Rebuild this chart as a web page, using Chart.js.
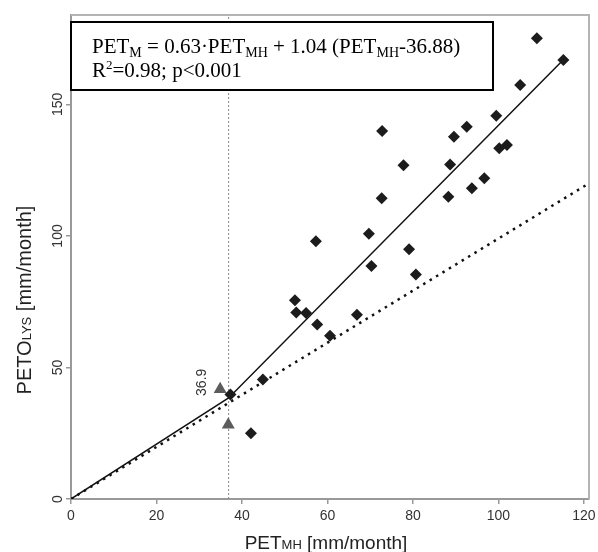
<!DOCTYPE html>
<html>
<head>
<meta charset="utf-8">
<script src="https://cdn.jsdelivr.net/npm/chart.js@4.4.1/dist/chart.umd.min.js"></script>
<style>
  html, body { margin: 0; padding: 0; background: #fff; }
</style>
</head>
<body>
<canvas id="chart" width="598" height="552"></canvas>
<script>
// measured PET (Makkink-Hargreaves) vs lysimeter PETO, mm/month
const petMH   = [37.3, 42.1, 44.9, 52.4, 52.7, 55.0, 57.3, 57.6, 60.6, 66.9, 69.7, 70.3, 72.7, 72.8, 77.8,
                 79.1, 80.7, 88.3, 88.7, 89.6, 92.6, 93.8, 96.7, 99.5, 100.2, 102.0, 105.1, 109.0, 115.2];
const petoLYS = [39.7, 25.0, 45.4, 75.6, 70.9, 70.7, 98.0, 66.3, 62.1, 70.0, 100.8, 88.6, 114.3, 139.9, 126.9,
                 94.9, 85.3, 114.9, 127.2, 137.7, 141.5, 118.1, 121.9, 145.7, 133.3, 134.6, 157.4, 175.2, 166.9];

// grey triangles near the break point
const triX = [34.9, 36.8];
const triY = [41.7, 28.2];

// broken-line fit and 1:1 line
const breakX = 36.88;
const fitX = [0, 36.88, 115.2];
const fitY = [0, 38.4, 167.0];
const oneX = [0, 121.2];
const oneY = [0, 120.0];

const xTicks = [0, 20, 40, 60, 80, 100, 120];
const yTicks = [0, 50, 100, 150];
const xMax = 121.2;
const yMax = 184;

const pts = (xs, ys) => xs.map((x, i) => ({ x: x, y: ys[i] }));

const SANS = '"Liberation Sans", Arial, sans-serif';
const SERIF = '"Liberation Serif", "Times New Roman", serif';

// parts: [text, fontSize, dy, family]
function drawRich(ctx, parts, x, y, align) {
  let total = 0;
  parts.forEach(p => { ctx.font = p[1] + 'px ' + p[3]; total += ctx.measureText(p[0]).width; });
  let cx = align === 'center' ? x - total / 2 : x;
  ctx.textAlign = 'left';
  parts.forEach(p => {
    ctx.font = p[1] + 'px ' + p[3];
    ctx.fillText(p[0], cx, y + p[2]);
    cx += ctx.measureText(p[0]).width;
  });
}

const decorations = {
  id: 'decorations',
  afterDatasetsDraw(chart) {
    const ctx = chart.ctx;
    const a = chart.chartArea;
    const xs = chart.scales.x, ys = chart.scales.y;
    ctx.save();

    // light frame on top and right
    ctx.strokeStyle = '#b4b4b4';
    ctx.lineWidth = 2;
    ctx.beginPath();
    ctx.moveTo(a.left, a.top);
    ctx.lineTo(a.right, a.top);
    ctx.lineTo(a.right, a.bottom);
    ctx.stroke();

    // equation box
    const bx = a.left, by = a.top + 7, bw = 422, bh = 68;
    ctx.fillStyle = '#fff';
    ctx.fillRect(bx, by, bw, bh);
    ctx.strokeStyle = '#000';
    ctx.lineWidth = 2;
    ctx.strokeRect(bx, by, bw, bh);

    ctx.fillStyle = '#000';
    ctx.textBaseline = 'alphabetic';
    drawRich(ctx, [
      ['PET', 21, 0, SERIF], ['M', 14, 4, SERIF], [' = 0.63\u00B7PET', 21, 0, SERIF], ['MH', 14, 4, SERIF],
      [' + 1.04 (PET', 21, 0, SERIF], ['MH', 14, 4, SERIF], ['-36.88)', 21, 0, SERIF]
    ], bx + 21, by + 31);
    drawRich(ctx, [
      ['R', 21, 0, SERIF], ['2', 13, -8, SERIF], ['=0.98; p<0.001', 21, 0, SERIF]
    ], bx + 21, by + 55);

    // break point label
    const tx = xs.getPixelForValue(triX[0]) - 18;
    const ty = ys.getPixelForValue(triY[0]) - 7;
    ctx.save();
    ctx.translate(tx, ty);
    ctx.rotate(-Math.PI / 2);
    ctx.fillStyle = '#333';
    ctx.font = '14px ' + SANS;
    ctx.textAlign = 'center';
    ctx.textBaseline = 'middle';
    ctx.fillText(breakX.toFixed(1), 0, 0);
    ctx.restore();

    ctx.restore();
  },
  afterDraw(chart) {
    const ctx = chart.ctx;
    const a = chart.chartArea;
    const xs = chart.scales.x, ys = chart.scales.y;
    ctx.save();
    ctx.fillStyle = '#333';
    ctx.font = '14px ' + SANS;

    // x tick labels
    ctx.textAlign = 'center';
    ctx.textBaseline = 'middle';
    xTicks.forEach(v => ctx.fillText(String(v), xs.getPixelForValue(v), a.bottom + 17));

    // y tick labels, rotated
    yTicks.forEach(v => {
      ctx.save();
      ctx.translate(a.left - 13, ys.getPixelForValue(v));
      ctx.rotate(-Math.PI / 2);
      ctx.fillText(String(v), 0, 0);
      ctx.restore();
    });

    // axis titles
    ctx.fillStyle = '#222';
    ctx.textBaseline = 'alphabetic';
    drawRich(ctx, [
      ['PET', 19, 0, SANS], ['MH', 13, 0, SANS], [' [mm/month]', 19, 0, SANS]
    ], (a.left + a.right) / 2 - 4, a.bottom + 50, 'center');

    ctx.save();
    ctx.translate(31, 300);
    ctx.rotate(-Math.PI / 2);
    drawRich(ctx, [
      ['PETO', 20, 0, SANS], ['LYS', 13, 0, SANS], [' [mm/month]', 20, 0, SANS]
    ], 0, 0, 'center');
    ctx.restore();

    ctx.restore();
  }
};

new Chart(document.getElementById('chart').getContext('2d'), {
  type: 'scatter',
  data: {
    datasets: [
      {
        label: 'observations',
        data: pts(petMH, petoLYS),
        pointStyle: 'rectRot',
        pointRadius: 6,
        backgroundColor: '#1c1c1c',
        borderWidth: 0
      },
      {
        label: 'break',
        data: pts(triX, triY),
        pointStyle: 'triangle',
        pointRadius: 7.5,
        backgroundColor: '#5c5c5c',
        borderWidth: 0
      },
      {
        label: 'fit',
        data: pts(fitX, fitY),
        showLine: true,
        pointRadius: 0,
        borderColor: '#111',
        borderWidth: 1.5
      },
      {
        label: '1:1',
        data: pts(oneX, oneY),
        showLine: true,
        pointRadius: 0,
        borderColor: '#111',
        borderWidth: 2.5,
        borderDash: [2.5, 5]
      },
      {
        label: 'break line',
        data: [{ x: breakX, y: 0 }, { x: breakX, y: yMax }],
        showLine: true,
        pointRadius: 0,
        borderColor: '#888',
        borderWidth: 1,
        borderDash: [2, 2]
      }
    ]
  },
  options: {
    responsive: false,
    animation: false,
    devicePixelRatio: 1,
    layout: { padding: { left: 66, right: 9, top: 15, bottom: 48 } },
    plugins: {
      legend: { display: false },
      tooltip: { enabled: false }
    },
    scales: {
      x: {
        type: 'linear',
        min: 0,
        max: xMax,
        ticks: { stepSize: 20, includeBounds: false, display: false },
        grid: { drawOnChartArea: false, drawTicks: true, tickLength: 5, color: '#999', lineWidth: 1.5 },
        border: { display: true, color: '#999', width: 2 }
      },
      y: {
        type: 'linear',
        min: 0,
        max: yMax,
        ticks: { stepSize: 50, includeBounds: false, display: false },
        grid: { drawOnChartArea: false, drawTicks: true, tickLength: 5, color: '#999', lineWidth: 1.5 },
        border: { display: true, color: '#999', width: 2 }
      }
    }
  },
  plugins: [decorations]
});
</script>
</body>
</html>
